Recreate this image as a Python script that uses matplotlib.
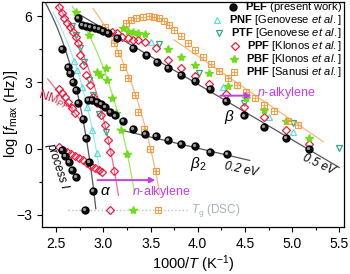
import numpy as np
import matplotlib.pyplot as plt
import matplotlib.transforms as mtransforms
from matplotlib.ticker import MultipleLocator

plt.rcParams['font.family'] = ['Liberation Sans', 'DejaVu Sans']
plt.rcParams['mathtext.fontset'] = 'custom'
plt.rcParams['mathtext.rm'] = 'Liberation Sans'
plt.rcParams['mathtext.it'] = 'Liberation Sans:italic'
plt.rcParams['mathtext.bf'] = 'Liberation Sans:bold'

# ---- PEF (present work) ----
pef_alpha_x = [2.564, 2.628, 2.649, 2.681, 2.713, 2.734, 2.787, 2.819, 2.851, 2.894]
pef_alpha_y = [4.51, 3.70, 3.43, 3.03, 2.67, 2.08, 1.36, 0.46, -0.62, -1.93]
pef_beta_x = [2.734, 2.777, 2.819, 2.862, 2.915, 2.957, 3.000, 3.053, 3.149, 3.319, 3.457,
              3.564, 3.681, 3.819, 3.968, 4.128, 4.298, 4.489, 4.702, 4.936, 5.181]
pef_beta_y = [5.91, 5.59, 5.55, 5.50, 5.46, 5.41, 5.32, 5.23, 5.01, 4.56, 4.24,
              3.93, 3.66, 3.34, 3.07, 2.71, 2.15, 1.50, 1.00, 0.50, -0.04]
pef_beta2_x = [2.840, 2.883, 2.936, 2.979, 3.021, 3.074, 3.128, 3.213, 3.319, 3.436,
               3.553, 3.681, 3.819, 3.968, 4.128, 4.309]
pef_beta2_y = [2.22, 2.22, 2.13, 2.04, 1.90, 1.68, 1.50, 1.27, 0.91, 0.68,
               0.55, 0.37, 0.23, 0.10, -0.17, -0.26]
pef_proc1_x = [2.564, 2.596, 2.638, 2.670, 2.713]
pef_proc1_y = [-0.08, -0.35, -0.62, -0.98, -1.30]

# ---- PNF [Genovese et al.] ----
pnf_x = [2.691, 2.723, 2.777, 2.830, 2.883, 2.936, 2.957, 3.500, 4.266, 4.755, 5.011]
pnf_y = [3.97, 3.57, 2.80, 1.90, 0.86, -0.22, -0.94, 4.83, 2.80, 1.45, 0.77]

# ---- PTF [Genovese et al.] ----
ptf_x = [2.670, 2.713, 2.755, 2.798, 2.851, 2.894, 2.957, 3.032, 3.585, 4.011, 4.489, 5.011, 5.500]
ptf_y = [5.55, 5.14, 4.56, 3.93, 3.12, 2.44, 1.59, 0.73, 4.74, 3.43, 2.08, 1.18, 0.01]

# ---- PPF [Klonos et al.] ----
ppf_alpha_x = [2.532, 2.564, 2.585, 2.617, 2.649, 2.681, 2.713, 2.734, 2.755, 2.787, 2.819,
               2.862, 2.894, 2.936, 2.979, 3.021, 3.053, 3.074, 3.117]
ppf_alpha_y = [6.41, 6.14, 5.91, 5.68, 5.50, 5.28, 5.05, 4.78, 4.24, 3.79, 3.34,
               2.89, 2.35, 2.08, 1.54, 1.09, 0.41, -0.17, -1.03]
ppf_beta_x = [3.096, 3.149, 3.202, 3.266, 3.319, 3.372, 3.436, 3.553, 3.681, 3.819, 3.968,
              4.117, 4.298, 4.489, 4.702, 4.936, 5.181]
ppf_beta_y = [5.28, 5.23, 5.05, 5.01, 4.92, 4.92, 4.83, 4.56, 4.02, 3.66, 3.30,
              2.94, 2.49, 1.90, 1.45, 0.86, 0.23]
ppf_nm_x = [2.532, 2.564, 2.596, 2.628, 2.670, 2.702]
ppf_nm_y = [2.71, 2.53, 2.35, 2.13, 1.86, 1.63]
ppf_proc1_x = [2.532, 2.574, 2.617, 2.660, 2.702, 2.745, 2.787, 2.830, 2.872, 2.915, 2.957, 2.989]
ppf_proc1_y = [0.05, -0.05, -0.15, -0.25, -0.35, -0.44, -0.54, -0.65, -0.77, -0.88, -0.98, -1.07]

# ---- PBF [Klonos et al.] ----
pbf_x = [2.713, 2.851, 2.936, 2.968, 3.032, 3.043, 3.096, 3.138, 3.191, 3.255,
         3.213, 3.266, 3.319, 3.372, 3.436, 3.681, 3.819, 3.968, 4.117, 4.319,
         4.511, 4.702, 4.936, 5.181]
pbf_y = [6.18, 5.14, 3.48, 3.34, 3.66, 3.12, 2.31, 1.63, 0.86, -0.26,
         5.46, 5.32, 5.28, 5.23, 5.19, 4.51, 4.15, 3.79, 3.43, 2.85,
         2.31, 1.77, 1.23, 0.46]

# ---- PHF [Sanusi et al.] ----
phf_alpha_x = [3.021, 3.117, 3.160, 3.213, 3.266, 3.330, 3.372, 3.426, 3.489, 3.553]
phf_alpha_y = [5.50, 4.78, 4.33, 3.70, 3.21, 2.44, 1.68, 0.91, -0.04, -1.03]
phf_beta_x = [3.245, 3.298, 3.351, 3.415, 3.479, 3.532, 3.585, 3.638, 3.691, 3.745, 3.819,
              3.894, 3.968, 4.053, 4.138, 4.223, 4.319, 4.415, 4.511, 4.606, 4.702,
              4.809, 4.957, 5.064]
phf_beta_y = [5.68, 5.82, 5.91, 5.95, 6.00, 5.95, 5.91, 5.77, 5.59, 5.37, 5.10,
              4.78, 4.47, 4.15, 3.84, 3.52, 3.21, 2.89, 2.58, 2.31, 1.99,
              1.72, 1.27, 1.05]

# ---- Tg (DSC) ----
tg_x = {'PEF': 2.809, 'PPF': 3.074, 'PBF': 3.309, 'PHF': 3.574}
tg_logf = -2.8

# fit parameters: VFT (A, B, T0) and Arrhenius (logf0, E in eV)
vft_pef = (12.0, 652.0, 298.2)
vft_pnf = (12.0, 711.0, 283.0)
vft_ppf = (12.0, 725.6, 265.1)
vft_pbf = (12.0, 680.0, 251.8)
vft_phf = (12.0, 642.0, 232.2)
arr_pef_beta = (13.0, 0.5)
arr_pef_beta2 = (4.05, 0.2)
arr_ppf_nm = (16.16, 1.07)
arr_phf_beta = (15.89, 0.58)

legend_labels = [
    r'$\bf{PEF}$ (present work)',
    r'$\bf{PNF}$ [Genovese $\it{et\ al.}$]',
    r'$\bf{PTF}$ [Genovese $\it{et\ al.}$]',
    r'$\bf{PPF}$ [Klonos $\it{et\ al.}$]',
    r'$\bf{PBF}$ [Klonos $\it{et\ al.}$]',
    r'$\bf{PHF}$ [Sanusi $\it{et\ al.}$]',
]

KB_LN10 = 8.617e-5 * np.log(10) * 1000


def vft(x, p):
    A, B, T0 = p
    T = 1000.0 / np.asarray(x)
    return A - B / (T - T0)


def arrh(x, p):
    logf0, E = p
    return logf0 - E / KB_LN10 * np.asarray(x)


c_pef = '#111111'
c_pnf = '#5fdcd8'
c_ptf = '#2fa882'
c_ppf = '#ee1c40'
c_pbf = '#70dc1c'
c_phf = '#f59a3c'
c_mag = '#c040e8'

fig = plt.figure(figsize=(3.5, 2.74), dpi=100)
ax = fig.add_axes([0.12, 0.172, 0.863, 0.821])


def fitline(fn, p, x0, x1, color):
    xx = np.linspace(x0, x1, 200)
    ax.plot(xx, fn(xx, p), color=color, lw=0.9, zorder=1)


fitline(vft, vft_pef, 2.38, 2.92, '#555555')
fitline(vft, vft_pnf, 2.47, 2.97, '#9cecec')
fitline(vft, vft_ppf, 2.52, 3.16, '#ff6a88')
fitline(vft, vft_pbf, 2.67, 3.33, '#9aee5a')
fitline(vft, vft_phf, 2.89, 3.60, '#f8b880')
fitline(arrh, arr_pef_beta, 2.70, 5.50, '#555555')
fitline(arrh, arr_pef_beta2, 3.15, 4.55, '#555555')
fitline(arrh, arr_ppf_nm, 2.41, 2.74, '#ff6a88')
fitline(arrh, arr_phf_beta, 3.75, 5.33, '#f8b880')

# Tg (DSC) dotted guide
ax.plot([2.63, 3.89], [tg_logf, tg_logf], ls=':', color='#b8c0cc', lw=1.0, zorder=1)

# marker styles
st_pef = dict(marker='o', ls='none', mfc=c_pef, mec='black', ms=5)
st_pnf = dict(marker='^', ls='none', mfc='none', mec=c_pnf, mew=0.9, ms=4.5)
st_ptf = dict(marker='v', ls='none', mfc='none', mec=c_ptf, mew=0.9, ms=4.5)
st_ppf = dict(marker='D', ls='none', mfc='none', mec=c_ppf, mew=0.9, ms=3.8)
st_pbf = dict(marker='*', ls='none', color=c_pbf, ms=6)
st_phf = dict(marker='s', ls='none', mfc='none', mec=c_phf, mew=0.8, ms=4.2)
st_phf2 = dict(marker='+', ls='none', color=c_phf, mew=0.6, ms=4.2)

ax.plot(pnf_x, pnf_y, zorder=3, **st_pnf)
ax.plot(ptf_x, ptf_y, zorder=3, **st_ptf)
for xs, ys in [(ppf_alpha_x, ppf_alpha_y), (ppf_beta_x, ppf_beta_y),
               (ppf_nm_x, ppf_nm_y), (ppf_proc1_x, ppf_proc1_y),
               ([tg_x['PPF']], [tg_logf])]:
    ax.plot(xs, ys, zorder=3, **st_ppf)
for xs, ys in [(pbf_x, pbf_y), ([tg_x['PBF']], [tg_logf])]:
    ax.plot(xs, ys, zorder=3, **st_pbf)
for xs, ys in [(phf_alpha_x, phf_alpha_y), (phf_beta_x, phf_beta_y), ([tg_x['PHF']], [tg_logf])]:
    ax.plot(xs, ys, zorder=3, **st_phf)
    ax.plot(xs, ys, zorder=3, **st_phf2)

# black spheres with a small highlight
hl = mtransforms.offset_copy(ax.transData, fig=fig, x=-0.7, y=0.7, units='points')
for xs, ys in [(pef_alpha_x, pef_alpha_y), (pef_beta_x, pef_beta_y),
               (pef_beta2_x, pef_beta2_y), (pef_proc1_x, pef_proc1_y),
               ([tg_x['PEF']], [tg_logf])]:
    ax.plot(xs, ys, zorder=4, **st_pef)
    ax.plot(xs, ys, marker='o', ls='none', color='#9a9a9a', ms=1.3, zorder=5, transform=hl)

# arrows and labels
ax.annotate('', xy=(4.60, 2.40), xytext=(4.21, 2.40),
            arrowprops=dict(arrowstyle='-|>', color=c_mag, lw=1.4, mutation_scale=8))
ax.text(4.63, 2.52, r'$n$-alkylene', color=c_mag, fontsize=9, va='center')
ax.annotate('', xy=(3.58, -1.43), xytext=(2.91, -1.43),
            arrowprops=dict(arrowstyle='-|>', color=c_mag, lw=1.4, mutation_scale=8))
ax.text(3.30, -1.95, r'$n$-alkylene', color=c_mag, fontsize=9, va='center')

ax.text(4.33, 1.45, r'$\beta$', fontsize=11, ha='center', va='center')
ax.text(4.00, -0.72, r'$\beta_2$', fontsize=11, ha='center', va='center')
ax.text(3.02, -1.93, r'$\alpha$', fontsize=11, ha='center', va='center')
ax.text(4.46, -0.95, '0.2 eV', fontsize=8.5, ha='center', va='center', rotation=-12, style='italic')
ax.text(5.28, -0.72, '0.5 eV', fontsize=8.5, ha='center', va='center', rotation=-25, style='italic')
ax.text(2.515, -0.78, 'process I', fontsize=8.5, ha='center', va='center', rotation=-72, style='italic')
ax.text(2.51, 2.15, r'NM$_{PPF}$', color=c_ppf, fontsize=9, ha='center', va='center', rotation=-18)
ax.text(3.93, -2.83, r'$T_{\rm g}$ (DSC)', color='#a8b0bc', fontsize=8.5, va='center')

ax.set_xlim(2.35, 5.55)
ax.set_ylim(-3.55, 6.65)
ax.xaxis.set_major_locator(MultipleLocator(0.5))
ax.xaxis.set_minor_locator(MultipleLocator(0.25))
ax.yaxis.set_major_locator(MultipleLocator(3))
ax.yaxis.set_minor_locator(MultipleLocator(1.5))
ax.tick_params(labelsize=10, length=3.5, width=0.8)
ax.tick_params(which='minor', length=2, width=0.8)
ax.set_xlabel(r'1000/$T$ (K$^{-1}$)', fontsize=10.5, labelpad=2)
ax.set_ylabel(r'log [$f_{\rm max}$ (Hz)]', fontsize=10.5)
ax.yaxis.set_label_coords(-0.072, 0.5)
for s in ax.spines.values():
    s.set_linewidth(0.9)

# right-aligned legend, drawn by hand
leg_styles = [[st_pef], [st_pnf], [st_ptf], [st_ppf], [st_pbf], [st_phf, st_phf2]]
fig.canvas.draw()
rend = fig.canvas.get_renderer()
for i, (lab, sts) in enumerate(zip(legend_labels, leg_styles)):
    y = 0.976 - i * 0.0575
    t = ax.text(0.993, y, lab, transform=ax.transAxes, ha='right', va='center', fontsize=8.0,
                zorder=7)
    bb = t.get_window_extent(renderer=rend)
    xm = ax.transAxes.inverted().transform((bb.x0 - 12, 0))[0]
    for st in sts:
        ax.plot([xm], [y], transform=ax.transAxes, clip_on=False, zorder=6, **st)

fig.savefig('out.png', dpi=100)
